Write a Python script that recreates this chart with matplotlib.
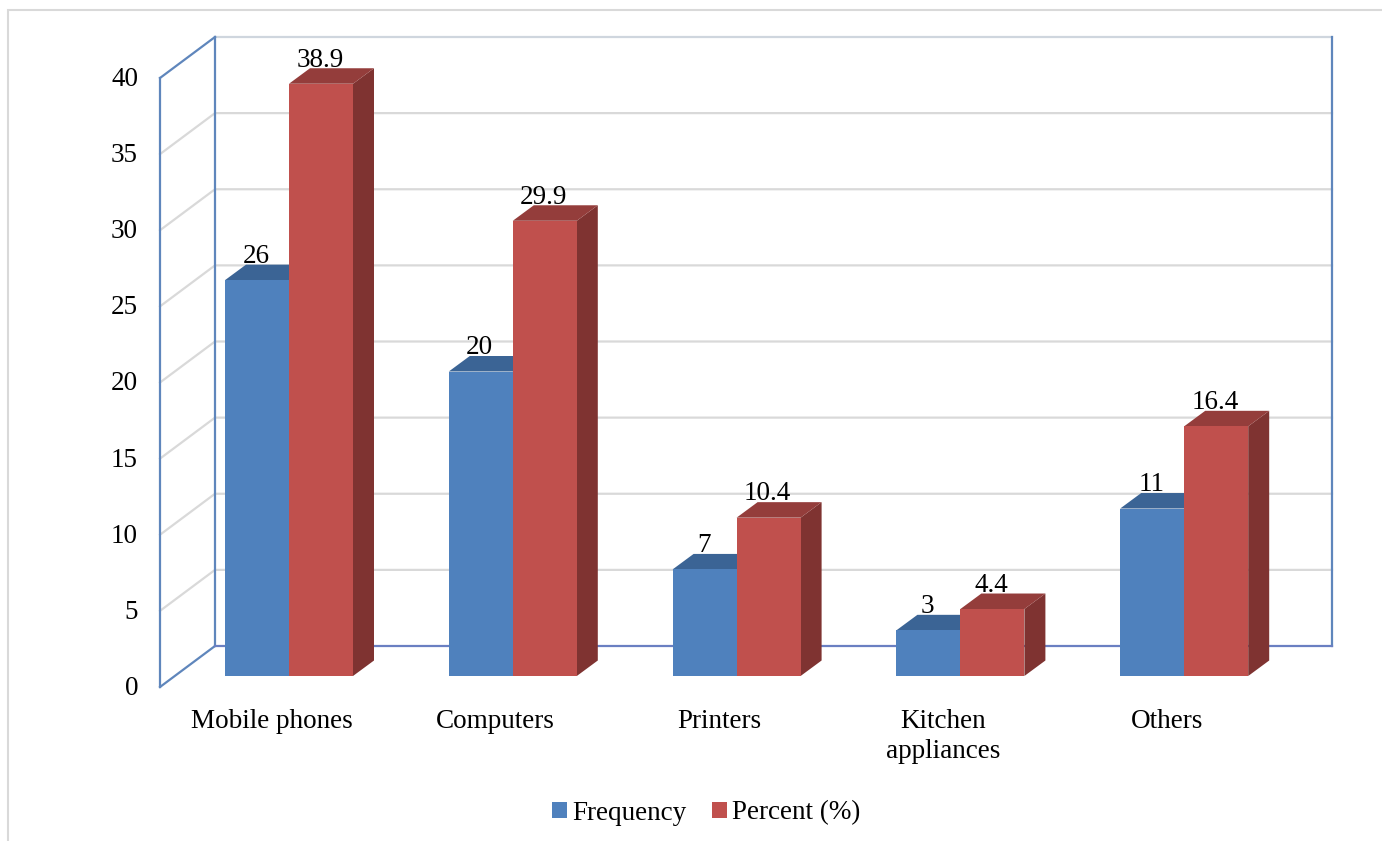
import matplotlib
matplotlib.use("Agg")
import matplotlib.pyplot as plt
from matplotlib.patches import Polygon, Patch, Rectangle

plt.rcParams['font.family'] = ['Liberation Serif', 'DejaVu Serif']

categories = ["Mobile phones", "Computers", "Printers", "Kitchen\nappliances", "Others"]
frequency = [26, 20, 7, 3, 11]
percent = [38.9, 29.9, 10.4, 4.4, 16.4]
y_ticks = [0, 5, 10, 15, 20, 25, 30, 35, 40]
series_names = ["Frequency", "Percent (%)"]

W, H = 1382, 841
X_UNIT = 223.8    # pixels per category
Y_UNIT = 15.225   # pixels per value unit
X0, Y0 = 160, 687  # pixel position of the front corner of the left wall

# 3D look: wall depth, bar depth and where the bars stand on the floor
WALL_DX, WALL_DY = 55 / X_UNIT, 41 / Y_UNIT
BAR_DX, BAR_DY = 21 / X_UNIT, 15.5 / Y_UNIT
BAR_W = 64 / X_UNIT
BAR_START = 65 / X_UNIT
BAR_BASE = 11 / Y_UNIT
PLOT_W = 1117 / X_UNIT

BLUE = ("#4F81BD", "#3B6495", "#345A88")
RED = ("#C0504D", "#943D3B", "#7F3331")
WALL = "#5F86BC"
FLOOR = "#6A7FC2"
GRID = "#D9D9D9"


def draw_bar(ax, x, value, colors):
    front, top, side = colors
    y0, y1 = BAR_BASE, BAR_BASE + value
    ax.add_patch(Polygon([(x + BAR_W, y0), (x + BAR_W + BAR_DX, y0 + BAR_DY),
                          (x + BAR_W + BAR_DX, y1 + BAR_DY), (x + BAR_W, y1)],
                         facecolor=side, edgecolor="none", zorder=3))
    ax.add_patch(Polygon([(x, y1), (x + BAR_DX, y1 + BAR_DY),
                          (x + BAR_W + BAR_DX, y1 + BAR_DY), (x + BAR_W, y1)],
                         facecolor=top, edgecolor="none", zorder=3))
    ax.add_patch(Rectangle((x, y0), BAR_W, value, facecolor=front, edgecolor="none", zorder=3))
    ax.text(x + BAR_W / 2 - 1 / X_UNIT, y1 + 1.13, str(value), ha="center", va="baseline",
            fontsize=19.5, color="black", zorder=5)


fig = plt.figure(figsize=(W / 100, H / 100), dpi=100)
ax = fig.add_axes([0, 0, 1, 1])
ax.set_xlim(-X0 / X_UNIT, (W - X0) / X_UNIT)
ax.set_ylim((Y0 - H) / Y_UNIT, Y0 / Y_UNIT)
ax.axis("off")

# outer chart border (top and left only show)
ax.plot([(1382 - X0) / X_UNIT, (8 - X0) / X_UNIT, (8 - X0) / X_UNIT],
        [(Y0 - 10) / Y_UNIT, (Y0 - 10) / Y_UNIT, (Y0 - 841) / Y_UNIT],
        color=GRID, lw=1.5, solid_joinstyle="miter", zorder=1)

# gridlines on the back and side walls
for v in y_ticks[1:-1]:
    ax.plot([0, WALL_DX, WALL_DX + PLOT_W], [v, v + WALL_DY, v + WALL_DY],
            color=GRID, lw=1.6, zorder=1)
ax.plot([WALL_DX, WALL_DX + PLOT_W], [40 + WALL_DY, 40 + WALL_DY],
        color="#CFD6DE", lw=1.6, zorder=1)

# wall frame
ax.plot([WALL_DX + PLOT_W, WALL_DX + PLOT_W], [WALL_DY, 40 + WALL_DY], color=WALL, lw=1.6, zorder=2)
ax.plot([WALL_DX, WALL_DX], [WALL_DY, 40 + WALL_DY], color=WALL, lw=1.6, zorder=2)
ax.plot([0, 0], [0, 40], color=WALL, lw=1.6, zorder=2)
ax.plot([0, WALL_DX], [40, 40 + WALL_DY], color=WALL, lw=1.6, zorder=2)
ax.plot([0, WALL_DX], [0, WALL_DY], color=WALL, lw=1.6, zorder=2)
ax.plot([WALL_DX, WALL_DX + PLOT_W], [WALL_DY, WALL_DY], color=FLOOR, lw=1.6, zorder=2)

for i in range(len(categories)):
    x = i + BAR_START
    draw_bar(ax, x, frequency[i], BLUE)
    draw_bar(ax, x + BAR_W, percent[i], RED)
    ax.text(i + 0.5, -1.45, categories[i], ha="center", va="top", fontsize=19.5,
            linespacing=1.28, color="black")

for v in y_ticks:
    ax.text(-22 / X_UNIT, v + 0.1, str(v), ha="right", va="center_baseline", fontsize=19.5, color="black")

handles = [Patch(facecolor=BLUE[0]), Patch(facecolor=RED[0])]
fig.legend(handles, series_names, loc="center", bbox_to_anchor=(706 / W, 1 - 813 / H),
           ncol=2, frameon=False, fontsize=19.5, handlelength=0.55, handleheight=0.55,
           handletextpad=0.18, columnspacing=0.95, borderpad=0)

fig.savefig("out.png", dpi=100)
plt.close(fig)
